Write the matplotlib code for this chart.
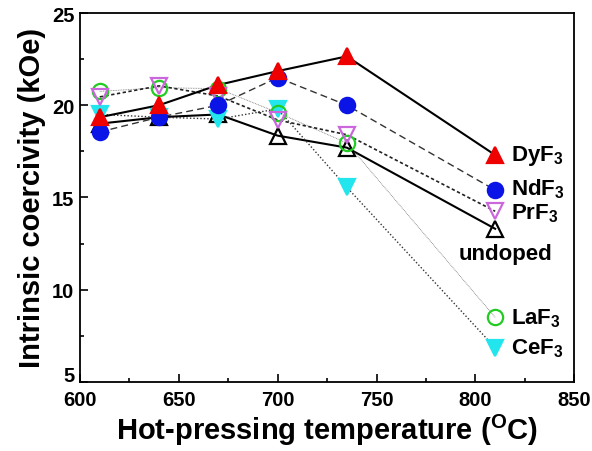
import matplotlib
matplotlib.use('Agg')
import matplotlib.pyplot as plt
import matplotlib.transforms as mtransforms
from matplotlib.ticker import MultipleLocator

plt.rcParams['font.family'] = ['Liberation Sans', 'DejaVu Sans']
plt.rcParams['font.weight'] = 'bold'
plt.rcParams['mathtext.default'] = 'regular'

# ─── DATA ────────────────────────────────────────────────────────────────────
TEMPS = [610, 640, 670, 700, 735, 810]

DYF3 = [19.35, 20.0, 21.1, 21.85, 22.65, 17.3]
NDF3 = [18.55, 19.35, 20.0, 21.5, 20.0, 15.4]
PRF3 = [20.45, 21.05, 20.5, 19.2, 18.4, 14.25]
UNDOPED = [19.0, 19.35, 19.5, 18.35, 17.7, 13.3]
LAF3 = [20.75, 20.95, 20.9, 19.6, 17.95, 8.5]
CEF3 = [19.5, 19.35, 19.25, 19.8, 15.55, 6.85]

LABELS = ['DyF$_3$', 'NdF$_3$', 'PrF$_3$', 'undoped', 'LaF$_3$', 'CeF$_3$']

fig = plt.figure(figsize=(5.92, 4.52), dpi=100)
ax = fig.add_axes([0.135, 0.153, 0.835, 0.816])

# series: values, marker, face, edge, line style, line width, line colour
series = [
    (UNDOPED, '^', 'none', 'black', '-', 1.5, 'black'),
    (CEF3, 'v', '#22e5ee', '#22e5ee', (0, (1, 1.5)), 1.0, '#333333'),
    (LAF3, 'o', 'none', '#22cc22', (0, (1, 1)), 0.6, '#777777'),
    (PRF3, 'v', 'none', '#cc66dd', (0, (2, 1.5)), 1.2, '#222222'),
    (NDF3, 'o', '#0a14e6', '#0a14e6', (0, (5, 3)), 1.0, '#333333'),
    (DYF3, '^', '#ee0000', '#ee0000', '-', 1.5, 'black'),
]
for vals, mk, fc, ec, ls, lw, lc in series:
    ax.plot(TEMPS, vals, linestyle=ls, color=lc, linewidth=lw, zorder=2)
    ax.plot(TEMPS, vals, linestyle='none', marker=mk, markersize=11,
            markerfacecolor=fc, markeredgecolor=ec, markeredgewidth=1.6,
            zorder=3)

# labels next to the last points
last = {'DyF$_3$': DYF3[-1], 'NdF$_3$': NDF3[-1] + 0.1, 'PrF$_3$': PRF3[-1] - 0.1,
        'LaF$_3$': LAF3[-1], 'CeF$_3$': CEF3[-1]}
for lab, v in last.items():
    ax.text(TEMPS[-1] + 8, v, lab, fontsize=16, fontweight='bold',
            va='center', ha='left')
ax.text(TEMPS[-1] + 5, UNDOPED[-1] - 1.35, LABELS[3], fontsize=16,
        fontweight='bold', va='center', ha='center')

ax.set_xlim(600, 850)
ax.set_ylim(5, 25)
ax.xaxis.set_major_locator(MultipleLocator(50))
ax.xaxis.set_minor_locator(MultipleLocator(25))
ax.yaxis.set_major_locator(MultipleLocator(5))
ax.yaxis.set_minor_locator(MultipleLocator(2.5))
ax.tick_params(which='both', direction='in', width=1.2)
ax.tick_params(which='major', length=6, labelsize=14.5)
ax.tick_params(axis='x', which='major', pad=6)
ax.tick_params(axis='y', which='major', pad=4)
ax.tick_params(which='minor', length=3)
for sp in ax.spines.values():
    sp.set_linewidth(1.3)

ax.set_xlabel('Hot-pressing temperature ($^{O}$C)', fontsize=21,
              fontweight='bold', labelpad=2)
ax.set_ylabel('Intrinsic coercivity (kOe)', fontsize=21,
              fontweight='bold', labelpad=4)

# lift the bottom y label a little, as in the original, so it clears "600"
fig.canvas.draw()
bottom = ax.yaxis.get_major_ticks()[0].label1
for t in ax.yaxis.get_major_ticks():
    if abs(t.get_loc() - 5) < 1e-6:
        t.label1.set_transform(t.label1.get_transform() +
                               mtransforms.ScaledTranslation(0, 6 / 72, fig.dpi_scale_trans))

fig.savefig('out.png', dpi=100)
